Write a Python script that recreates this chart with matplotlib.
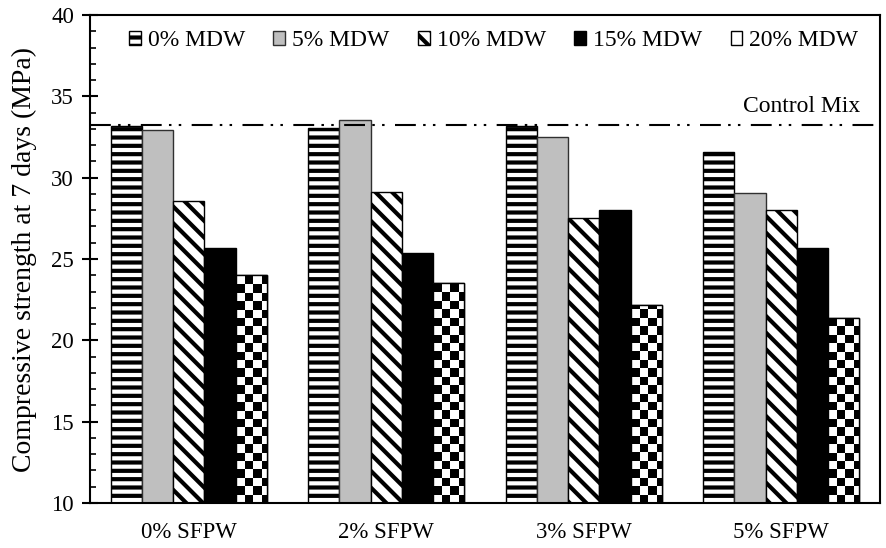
import numpy as np
import matplotlib
matplotlib.use("Agg")
import matplotlib.pyplot as plt
from matplotlib.colors import ListedColormap

# ---- data -------------------------------------------------------------
groups = ["0% SFPW", "2% SFPW", "3% SFPW", "5% SFPW"]
series = ["0% MDW", "5% MDW", "10% MDW", "15% MDW", "20% MDW"]
mdw_0 = [33.2, 33.05, 33.15, 31.6]
mdw_5 = [32.95, 33.55, 32.5, 29.05]
mdw_10 = [28.55, 29.1, 27.5, 28.0]
mdw_15 = [25.65, 25.4, 28.0, 25.65]
mdw_20 = [24.0, 23.55, 22.2, 21.35]
control_mix = 33.25
yticks = [10, 15, 20, 25, 30, 35, 40]

# ---- style ------------------------------------------------------------
plt.rcParams["font.family"] = ["Liberation Serif", "DejaVu Serif"]
plt.rcParams["hatch.linewidth"] = 3.0
FS_TICK = 16.5
FS_LEG = 17
FS_YLAB = 20

fig = plt.figure(figsize=(8.87, 5.48), dpi=100)
ax = fig.add_axes([0.1015, 0.0821, 0.8905, 0.8905])

x = np.arange(len(groups))
w = 0.158
values = [mdw_0, mdw_5, mdw_10, mdw_15, mdw_20]
styles = [
    dict(facecolor="white", edgecolor="black", hatch="--"),
    dict(facecolor="#BFBFBF", edgecolor="#303030"),
    dict(facecolor="white", edgecolor="black", hatch="\\\\"),
    dict(facecolor="black", edgecolor="black"),
    dict(facecolor="white", edgecolor="black"),
]
containers = []
for i, (vals, st) in enumerate(zip(values, styles)):
    bc = ax.bar(x + (i - 2) * w, vals, width=w, linewidth=1.0,
                label=series[i], zorder=2, **st)
    containers.append(bc)

ax.set_xlim(-0.5, len(groups) - 0.5)
ax.set_ylim(yticks[0], yticks[-1])

# checkerboard fill for the 20% MDW bars
cell_px = 8.4
cmap = ListedColormap(["white", "black"])
ymin = ax.get_ylim()[0]
for rect in containers[4]:
    x0, wd, top = rect.get_x(), rect.get_width(), rect.get_height()
    p0 = ax.transData.transform((x0, ymin))
    p1 = ax.transData.transform((x0 + wd, top))
    nx = int(np.ceil((p1[0] - p0[0]) / cell_px))
    ny = int(np.ceil((p1[1] - p0[1]) / cell_px))
    dx = wd / ((p1[0] - p0[0]) / cell_px)
    dy = (top - ymin) / ((p1[1] - p0[1]) / cell_px)
    grid = np.indices((ny, nx)).sum(axis=0) % 2
    im = ax.imshow(grid, cmap=cmap, origin="lower", interpolation="nearest",
                   extent=(x0, x0 + nx * dx, ymin, ymin + ny * dy),
                   aspect="auto", zorder=2.5)
    im.set_clip_path(rect)
ax.bar(x + 2 * w, mdw_20, width=w, fill=False, edgecolor="black",
       linewidth=1.0, zorder=3)
ax.set_xlim(-0.5, len(groups) - 0.5)
ax.set_ylim(yticks[0], yticks[-1])

# control mix reference line
ax.axhline(control_mix, color="black", linewidth=1.5,
           linestyle=(0, (10, 3.5, 1.2, 3.5, 1.2, 5)), zorder=4)
ax.text(0.975, control_mix + 0.45, "Control Mix", transform=ax.get_yaxis_transform(),
        ha="right", va="bottom", fontsize=FS_LEG)

# axes formatting
ax.set_xticks(x)
ax.set_xticklabels(groups, fontsize=FS_TICK)
ax.set_yticks(yticks)
ax.set_yticklabels([str(t) for t in yticks], fontsize=FS_TICK)
ax.set_yticks(np.arange(yticks[0], yticks[-1] + 1, 1), minor=True)
ax.tick_params(axis="x", length=0, pad=14)
ax.tick_params(axis="y", which="major", direction="inout", length=11, width=1.5, pad=6)
ax.tick_params(axis="y", which="minor", direction="in", length=4, width=1.2)
for sp in ax.spines.values():
    sp.set_linewidth(1.5)
ax.set_ylabel("Compressive strength at 7 days (MPa)", fontsize=FS_YLAB, labelpad=10)

ax.legend(handles=containers, loc="upper center", bbox_to_anchor=(0.511, 1.0),
          ncol=5, frameon=False, fontsize=FS_LEG, handlelength=0.5, handleheight=0.5,
          handletextpad=0.3, columnspacing=1.2, borderaxespad=0.25)

fig.savefig("out.png", dpi=100)
